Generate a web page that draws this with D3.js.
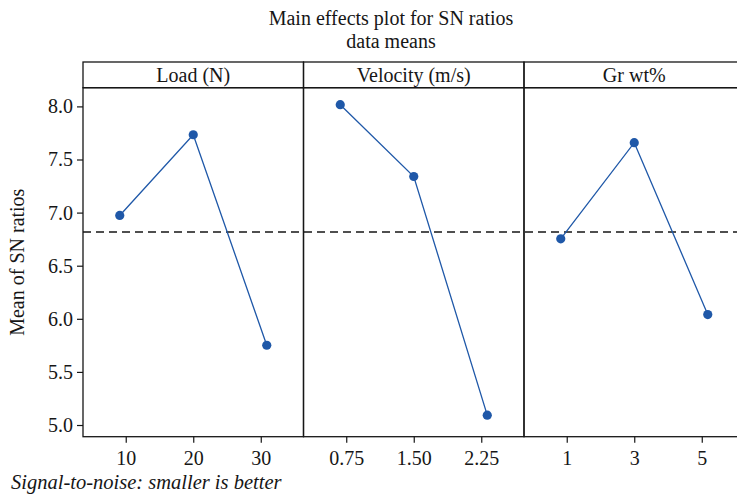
<!DOCTYPE html>
<html>
<head>
<meta charset="utf-8">
<script src="https://cdn.jsdelivr.net/npm/d3@7"></script>
<style>
  html, body { margin: 0; padding: 0; background: #fff; }
  svg { display: block; font-family: "Liberation Serif", "DejaVu Serif", serif; }
</style>
</head>
<body>
<svg id="chart" width="737" height="500"></svg>
<script>
// Factor names shown in the panel strips
const factors = ["Load (N)", "Velocity (m/s)", "Gr wt%"];

// Factor levels (x tick labels)
const loadLevels = ["10", "20", "30"];
const velocityLevels = ["0.75", "1.50", "2.25"];
const grLevels = ["1", "3", "5"];

// Mean S/N ratio at each level
const loadSN = [6.973, 7.733, 5.751];
const velocitySN = [8.016, 7.340, 5.093];
const grSN = [6.753, 7.658, 6.040];

// Y axis tick values
const yTicks = [5.0, 5.5, 6.0, 6.5, 7.0, 7.5, 8.0];

const levels = [loadLevels, velocityLevels, grLevels];
const means = [loadSN, velocitySN, grSN];

const svg = d3.select("#chart");
const marginLeft = 83, stripTop = 62, stripH = 25.7, plotBottom = 436.7, panelW = 220.5;
const plotTop = stripTop + stripH;
const blue = "#1f58a8";
const ink = "#161616";
const fs = 20;

const y = d3.scaleLinear().domain([4.89, 8.176]).range([plotBottom, plotTop]);

// Grand mean across every level of every factor
const grand = d3.mean(means.flat());

// Titles
svg.append("text").attr("x", 391).attr("y", 25).attr("text-anchor", "middle")
  .attr("font-size", fs).attr("fill", ink).text("Main effects plot for SN ratios");
svg.append("text").attr("x", 391).attr("y", 48).attr("text-anchor", "middle")
  .attr("font-size", fs).attr("fill", ink).text("data means");

// Y axis
const yAxis = svg.append("g").attr("transform", `translate(${marginLeft},0)`)
  .call(d3.axisLeft(y).tickValues(yTicks).tickFormat(d3.format(".1f")).tickSize(6).tickPadding(4));
yAxis.select(".domain").remove();
yAxis.selectAll(".tick line").attr("stroke", ink).attr("stroke-width", 1.2);
yAxis.selectAll(".tick text").attr("font-size", fs).attr("fill", ink)
  .attr("font-family", "Liberation Serif, serif");

svg.append("text")
  .attr("transform", `translate(24,${(plotTop + plotBottom) / 2}) rotate(-90)`)
  .attr("text-anchor", "middle").attr("font-size", fs).attr("fill", ink)
  .text("Mean of SN ratios");

const plotRight = marginLeft + panelW * factors.length;

// Reference line at the grand mean
svg.append("line")
  .attr("x1", marginLeft).attr("x2", plotRight)
  .attr("y1", y(grand)).attr("y2", y(grand))
  .attr("stroke", ink).attr("stroke-width", 1.3).attr("stroke-dasharray", "8,5");

factors.forEach((name, i) => {
  const x0 = marginLeft + panelW * i;
  const g = svg.append("g").attr("transform", `translate(${x0},0)`);

  // marks and tick positions for this factor
  const xPts = d3.scalePoint().domain(levels[i]).range([0, panelW]).padding(0.5);
  const xTicks = d3.scalePoint().domain(levels[i]).range([0, panelW]).padding(0.633);

  // strip header
  g.append("rect").attr("x", 0).attr("y", stripTop).attr("width", panelW).attr("height", stripH)
    .attr("fill", "none").attr("stroke", ink).attr("stroke-width", 1.3);
  g.append("text").attr("x", panelW / 2).attr("y", stripTop + 20).attr("text-anchor", "middle")
    .attr("font-size", fs).attr("fill", ink).text(name);

  // panel frame
  g.append("rect").attr("x", 0).attr("y", plotTop).attr("width", panelW).attr("height", plotBottom - plotTop)
    .attr("fill", "none").attr("stroke", ink).attr("stroke-width", 1.3);

  // x axis
  const xa = g.append("g").attr("transform", `translate(0,${plotBottom})`)
    .call(d3.axisBottom(xTicks).tickSize(6).tickPadding(8));
  xa.select(".domain").remove();
  xa.selectAll(".tick line").attr("stroke", ink).attr("stroke-width", 1.2);
  xa.selectAll(".tick text").attr("font-size", fs).attr("fill", ink)
    .attr("font-family", "Liberation Serif, serif");

  const pts = levels[i].map((lv, k) => ({ lv, v: means[i][k] }));
  g.append("path").datum(pts)
    .attr("fill", "none").attr("stroke", blue).attr("stroke-width", 1.3)
    .attr("d", d3.line().x(d => xPts(d.lv)).y(d => y(d.v)));
  g.selectAll("circle").data(pts).join("circle")
    .attr("cx", d => xPts(d.lv)).attr("cy", d => y(d.v)).attr("r", 4.6)
    .attr("fill", blue);
});

// Footnote
svg.append("text").attr("x", 11).attr("y", 488.5).attr("font-size", 20.5)
  .attr("font-style", "italic").attr("fill", ink)
  .text("Signal-to-noise: smaller is better");
</script>
</body>
</html>
